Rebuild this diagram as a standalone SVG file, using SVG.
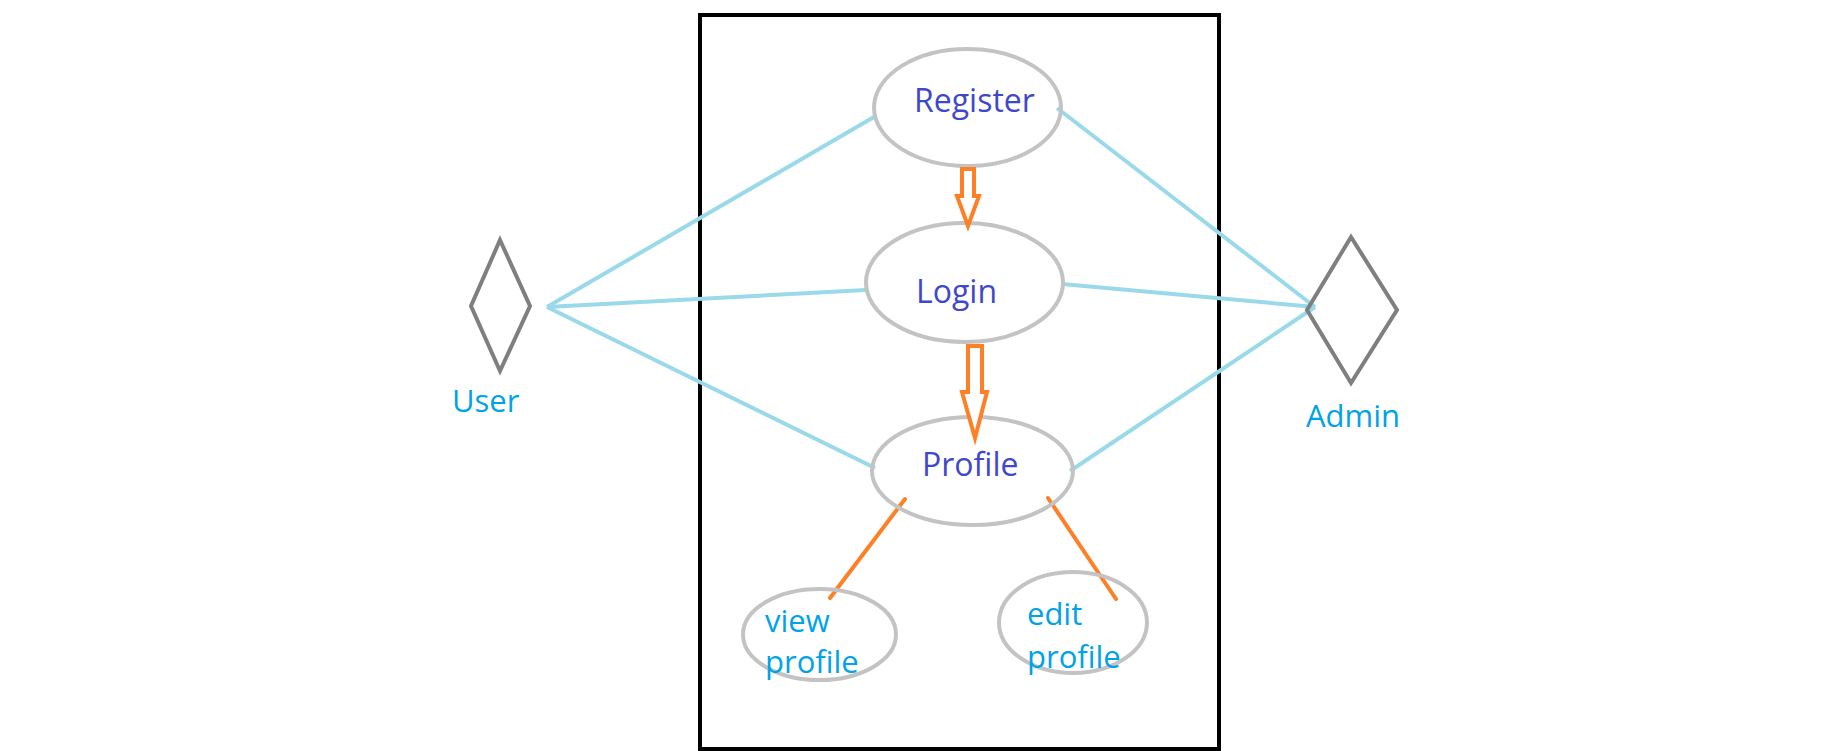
<svg xmlns="http://www.w3.org/2000/svg" width="1835" height="751" viewBox="0 0 1835 751">
<style>
.ell{fill:none;stroke:#c3c3c3;stroke-width:4}
.act{fill:none;stroke:#7f7f7f;stroke-width:4;stroke-linejoin:miter}
.assoc{stroke:#99d9ea;stroke-width:4;fill:none}
.inc{stroke:#ff7f27;stroke-width:4;fill:none;stroke-linecap:round}
.blk{fill:#fff;stroke:#ff7f27;stroke-width:4;stroke-linejoin:miter}
.t1{font-family:"Open Sans","Noto Sans","Liberation Sans",sans-serif;font-size:32px;fill:#3f48cc}
.t2{font-family:"Open Sans","Noto Sans","Liberation Sans",sans-serif;font-size:31px;fill:#00a2e8}
</style>
<rect x="0" y="0" width="1835" height="751" fill="#fff"/>
<rect id="system" x="700" y="15" width="519" height="734" fill="none" stroke="#000" stroke-width="4"/>
<g id="connectors">
<line class="assoc" x1="547" y1="307" x2="874" y2="117"/>
<line class="assoc" x1="547" y1="307" x2="866" y2="290"/>
<line class="assoc" x1="547" y1="307" x2="875" y2="468"/>
<line class="assoc" x1="1315" y1="307" x2="1057" y2="108"/>
<line class="assoc" x1="1315" y1="307" x2="1062" y2="284"/>
<line class="assoc" x1="1315" y1="307" x2="1070" y2="471"/>
<line class="inc" x1="905" y1="499" x2="830" y2="598"/>
<line class="inc" x1="1048" y1="498" x2="1116" y2="599"/>
</g>
<g id="user">
<polygon class="act" points="500,240 530,306 500,371 471,306"/>
<text class="t2" x="452" y="412">User</text>
</g>
<g id="admin">
<polygon class="act" points="1351,237 1397,310 1351,383 1307,310"/>
<text class="t2" x="1306" y="427">Admin</text>
</g>
<g id="register">
<ellipse class="ell" cx="967.5" cy="107.5" rx="93.5" ry="58.5"/>
<text class="t1" x="914" y="112">Register</text>
</g>
<g id="login">
<ellipse class="ell" cx="964.5" cy="282.5" rx="98.5" ry="59.5"/>
<text class="t1" x="916" y="303" font-size="31">Login</text>
</g>
<g id="profile">
<ellipse class="ell" cx="972.5" cy="471" rx="100.5" ry="54"/>
<text class="t1" x="922" y="476">Profile</text>
</g>
<g id="view-profile">
<ellipse class="ell" cx="819.5" cy="634.5" rx="76.5" ry="45.5"/>
<text class="t2" x="765" y="632">view</text>
<text class="t2" x="765" y="673">profile</text>
</g>
<g id="edit-profile">
<ellipse class="ell" cx="1073" cy="622.5" rx="74" ry="50.5"/>
<text class="t2" x="1027" y="625">edit</text>
<text class="t2" x="1027" y="668">profile</text>
</g>
<g id="flow-arrows">
<path class="blk" d="M962,169 H974 V196 H979 L968,226 L957,196 H962 Z"/>
<path class="blk" d="M968,346 H982 V392 H987 L975,438 L962,392 H968 Z"/>
</g>
</svg>
